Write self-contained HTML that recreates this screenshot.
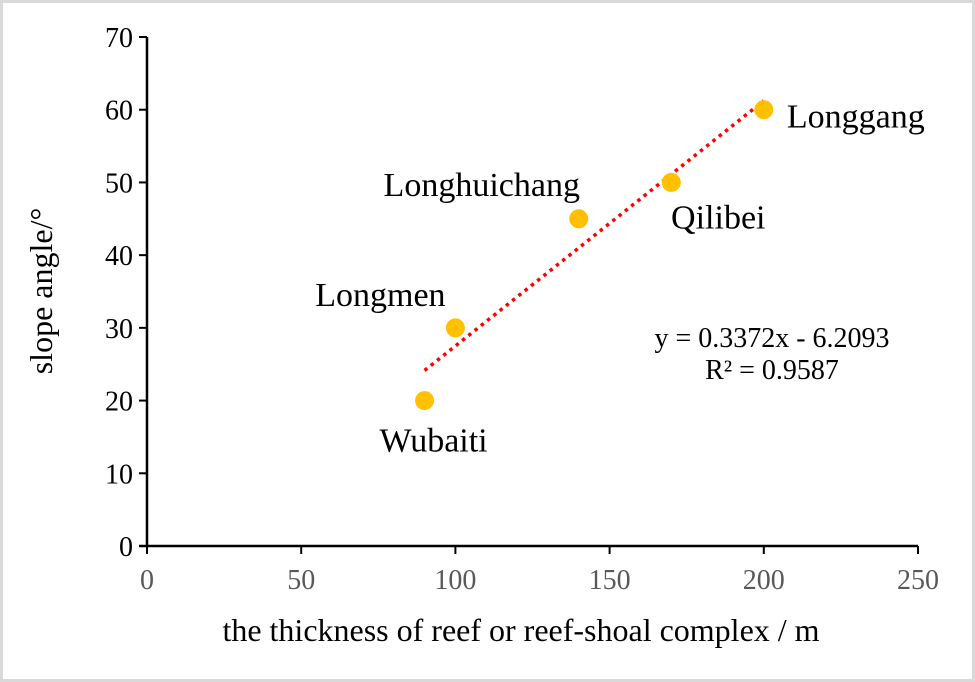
<!DOCTYPE html>
<html><head><meta charset="utf-8"><style>
html,body{margin:0;padding:0;background:#fff}
svg{display:block;font-family:"Liberation Serif",serif}
</style></head><body>
<svg width="975" height="682" id="c">
<rect x="1.5" y="1.5" width="972" height="679" fill="#fff" stroke="#d9d9d9" stroke-width="3"/>
<g id="g"></g>
<text x="0" y="0" transform="translate(52,291) rotate(-90)" text-anchor="middle" font-size="32" fill="#000">slope angle/°</text>
<text x="521" y="641" text-anchor="middle" font-size="32" fill="#000">the thickness of reef or reef-shoal complex / m</text>
<text x="772" y="347" text-anchor="middle" font-size="28" fill="#000">y = 0.3372x - 6.2093</text>
<text x="772" y="379" text-anchor="middle" font-size="28" fill="#000">R² = 0.9587</text>
</svg>
<script>
const names=["Wubaiti","Longmen","Longhuichang","Qilibei","Longgang"];
const xs=[90,100,140,170,200];
const ys=[20,30,45,50,60];
const xTicks=[0,50,100,150,200,250];
const yTicks=[0,10,20,30,40,50,60,70];
const slope=0.3372, intercept=-6.2093;
const labelOff=[[9,51],[-75,-22],[-97,-23],[47,46],[92,18]];
const ns="http://www.w3.org/2000/svg";
const g=document.getElementById('g');
const X=v=>147+v*(771/250), Y=v=>546-v*(509/70);
function mk(t,a,p){const e=document.createElementNS(ns,t);for(const k in a)e.setAttribute(k,a[k]);(p||g).appendChild(e);return e;}
let e=mk('line',{x1:147,y1:37,x2:147,y2:546,stroke:'#000','stroke-width':2.5});

e=mk('line',{x1:139,y1:546,x2:918,y2:546,stroke:'#000','stroke-width':2.5});

yTicks.forEach(v=>{
 e=mk('line',{x1:139,x2:147,y1:Y(v),y2:Y(v),stroke:'#000','stroke-width':2});
 
 e=mk('text',{x:133,y:Y(v)+10,'text-anchor':'end','font-size':28,fill:'#000'});e.textContent=v;
 
});
xTicks.forEach(v=>{
 e=mk('line',{x1:X(v),x2:X(v),y1:546,y2:554,stroke:'#000','stroke-width':2});
 
 e=mk('text',{x:X(v),y:589,'text-anchor':'middle','font-size':28,fill:'#595959'});e.textContent=v;
 
});
const x0=Math.min(...xs),x1=Math.max(...xs);
e=mk('line',{x1:X(x0),y1:Y(slope*x0+intercept),x2:X(x1),y2:Y(slope*x1+intercept),stroke:'#ff0000','stroke-width':3.5,'stroke-dasharray':'3.5 4.5'});

xs.forEach((v,i)=>{
 e=mk('circle',{cx:X(v),cy:Y(ys[i]),r:9.5,fill:'#ffc000'});
 
 e=mk('text',{x:X(v)+labelOff[i][0],y:Y(ys[i])+labelOff[i][1],'text-anchor':'middle','font-size':34,fill:'#000'});e.textContent=names[i];
 
});
</script>
</body></html>
